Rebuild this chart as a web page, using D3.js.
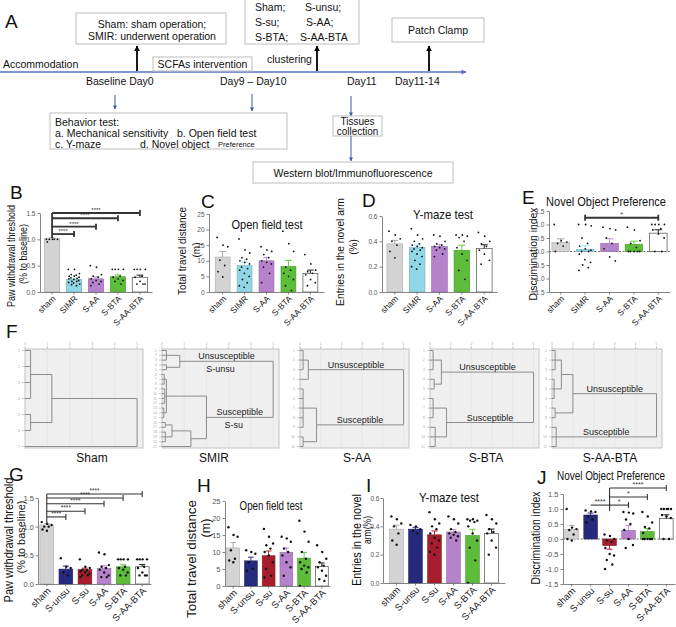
<!DOCTYPE html>
<html><head><meta charset="utf-8">
<script src="https://cdn.jsdelivr.net/npm/d3@7"></script>
<style>body{margin:0;background:#fff}svg{display:block}text{font-family:"Liberation Sans",Arial,Helvetica,sans-serif}</style>
</head><body><svg id="c" width="676" height="627"></svg>
<script>
// ---------------- DATA ----------------
const groupsB = ["sham","SIMR","S-AA","S-BTA","S-AA-BTA"];
const groupsG = ["sham","S-unsu","S-su","S-AA","S-BTA","S-AA-BTA"];
const ticksPWT = [0,0.5,1.0,1.5];
const ticksOF = [0,5,10,15,20,25];
const ticksYM = [0,0.2,0.4,0.6];
const ticksNOP = [-1.5,-1.0,-0.5,0,0.5,1.0,1.5];

// B: paw withdrawal threshold
const pwtB = [1.02,0.24,0.25,0.29,0.28];
const pwtBPts = [
  [1.0,1.0,1.0,1.0,1.0,0.95],
  [0.43,0.43,0.35,0.33,0.32,0.3,0.3,0.28,0.27,0.26,0.25,0.24,0.22,0.2,0.2,0.18,0.17,0.15,0.14,0.12],
  [0.5,0.47,0.33,0.3,0.28,0.25,0.22,0.2,0.18,0.15,0.12],
  [0.43,0.43,0.43,0.43,0.3,0.28,0.25,0.22,0.2,0.15],
  [0.43,0.43,0.43,0.43,0.3,0.28,0.2,0.15,0.15,0.15]];
const sigB = [["sham","SIMR",1.1,"****"],["sham","S-AA",1.24,"****"],["sham","S-BTA",1.4,"****"],["sham","S-AA-BTA",1.5,"****"]];
// C: open field (m)
const ofC = [11.2,8.5,10.0,8.2,6.0];
const ofCPts = [
  [17.5,15,14.5,10.2,8.5,6.5,4.8],
  [17,13.5,12.5,11,10.5,10,9.5,9,8,7.5,7,6,5,4,3,2,1.5],
  [14.5,13.5,13,12,11,10,9.5,9,8,6,3],
  [19.5,15.5,13,8,7,6,5,4,2,0.5],
  [12,9,7,6.5,6,5.5,4,3,2]];
// D: Y-maze
const ymD = [0.38,0.35,0.36,0.33,0.345];
const ymDPts = [
  [0.48,0.45,0.42,0.4,0.37,0.32,0.27],
  [0.5,0.45,0.42,0.4,0.38,0.37,0.36,0.35,0.34,0.33,0.32,0.3,0.28,0.25,0.22,0.2,0.18],
  [0.45,0.44,0.4,0.38,0.37,0.36,0.35,0.34,0.33,0.3,0.28],
  [0.45,0.45,0.44,0.43,0.4,0.35,0.3,0.25,0.17,0.1],
  [0.47,0.44,0.4,0.38,0.36,0.33,0.3,0.25,0.22]];
// E: novel object preference
const nopE = [0.33,0.08,0.30,0.27,0.68];
const nopEPts = [
  [1.0,0.4,0.35,0.3,0.2,0.0],
  [1.0,1.0,0.95,0.5,0.3,0.2,0.1,0.05,0.0,0.0,-0.1,-0.3,-0.4,-0.5,-0.6,-0.7],
  [0.9,0.85,0.8,0.5,0.3,0.1,-0.2,-0.35],
  [0.9,0.8,0.4,0.3,0.15,0,0,0,0,0],
  [1.0,1.0,1.0,1.0,0.85,0.8,0.65,0.5,0.0,0.0]];
const sigE = [["SIMR","S-AA-BTA",1.25,"*"]];
// G
const pwtG = [1.03,0.26,0.25,0.27,0.30,0.30];
const pwtGPts = [
  [1.08,1.05,1.03,1.0,1.0,0.95,0.93],
  [0.45,0.3,0.28,0.2,0.15],
  [0.43,0.3,0.28,0.25,0.24,0.22,0.2,0.18,0.15,0.15,0.12],
  [0.55,0.52,0.33,0.3,0.28,0.25,0.2,0.15,0.12,0.12],
  [0.43,0.43,0.43,0.43,0.3,0.28,0.25,0.2,0.15,0.15],
  [0.43,0.43,0.43,0.43,0.3,0.28,0.2,0.15,0.15,0.15]];
const sigG = [["sham","S-unsu",1.17,"****"],["sham","S-su",1.27,"****"],["sham","S-AA",1.4,"****"],["sham","S-BTA",1.5,"****"],["sham","S-AA-BTA",1.57,"****"]];
// H
const ofH = [11.2,7.4,8.9,9.9,8.2,5.7];
const ofHPts = [
  [17.3,15,14.5,10.5,8,7.5,7],
  [10.5,10,9.5,7,5,4.5],
  [16.8,14.5,12.5,12,11,10,9,7,5,3,2.5],
  [14.5,14,13,11,10,9,7,5.5,3],
  [19.2,16,13,10,8,7,6,5.5,5,4,0],
  [12,10,8,7,6,5.5,4.5,3,2,1.5]];
// I
const ymI = [0.38,0.38,0.34,0.36,0.335,0.35];
const ymIPts = [
  [0.47,0.45,0.42,0.4,0.35,0.3,0.27],
  [0.41,0.4,0.38,0.37,0.35],
  [0.5,0.45,0.42,0.4,0.38,0.35,0.32,0.3,0.28,0.25,0.22,0.2],
  [0.47,0.45,0.42,0.38,0.36,0.35,0.34,0.33,0.32,0.3],
  [0.45,0.45,0.44,0.44,0.43,0.4,0.35,0.3,0.25,0.16,0.0],
  [0.48,0.45,0.42,0.38,0.36,0.35,0.3,0.25,0.2]];
// J
const nopJ = [0.32,0.80,-0.22,0.29,0.25,0.68];
const nopJPts = [
  [1.0,0.38,0.33,0.3,0.15,0.0,-0.05],
  [0.95,0.92,0.9,0.75,0.65,0.55],
  [0.15,0.1,0.0,-0.05,-0.1,-0.3,-0.5,-0.55,-0.7,-0.85,-1.0],
  [0.9,0.88,0.85,0.65,0.5,0.3,0.0,-0.2,-0.3],
  [0.9,0.75,0.55,0.4,0.35,0.2,0,0,0,0,0],
  [1.0,1.0,1.0,1.0,1.0,0.8,0.75,0.7,0.0,0.0]];
const sigJ = [["S-unsu","S-su",1.13,"****"],["S-su","S-AA",1.13,"*"],["S-su","S-BTA",1.4,"*"],["S-su","S-AA-BTA",1.7,"****"]];

// F: dendrograms (merge distances, leaf order)
const dendroNames = ["Sham","SMIR","S-AA","S-BTA","S-AA-BTA"];
const dendroLeaves = [7,21,11,11,11];
const dendroTrees = [
  {h:5,c:[{h:1.2,c:[{h:0.25,c:[0,1,2,3]},{h:0.25,c:[4,5]}]},6]},
  {h:5,c:[{h:0.8,c:[{h:0.2,c:[0,1,2]},{h:0.2,c:[3,4]}]},
          {h:2,c:[{h:0.2,c:[{h:0.1,c:[5,6,7]},{h:0.12,c:[8,9,10,11]},{h:0.08,c:[12,13,14]}]},
                  {h:1.3,c:[{h:0.45,c:[{h:0.15,c:[15,16]},{h:0.15,c:[17,18,19]}]},20]}]}]},
  {h:5,c:[{h:0.4,c:[{h:0.15,c:[0,1,2]},3]},{h:0.8,c:[{h:0.15,c:[4,5,6,7,8]},{h:0.15,c:[9,10]}]}]},
  {h:5,c:[{h:0.55,c:[{h:0.15,c:[0,1,2]},{h:0.2,c:[3,4]}]},{h:0.8,c:[{h:0.15,c:[5,6,7]},{h:0.25,c:[8,9,10]}]}]},
  {h:5,c:[{h:1.0,c:[{h:0.45,c:[{h:0.15,c:[0,1,2]},{h:0.1,c:[3,4,5]}]},{h:0.15,c:[6,7]}]},{h:0.2,c:[8,9,10]}]}
];
const dendroLabels = [null,
  ["Unsusceptible","S-unsu","Susceptible","S-su"],
  ["Unsusceptible",null,"Susceptible",null],
  ["Unsusceptible",null,"Susceptible",null],
  ["Unsusceptible",null,"Susceptible",null]];

// ---------------- STYLE ----------------
const colors = {"sham":"#d3d3d3","SIMR":"#8fd6e6","S-AA":"#b582cb","S-BTA":"#5dbd3b","S-AA-BTA":"#ffffff","S-unsu":"#262a7c","S-su":"#a61e2e"};
const svg = d3.select("#c");
const defs = svg.append("defs");
function marker(id,color,w,h){
  defs.append("marker").attr("id",id).attr("viewBox","0 0 10 10").attr("refX",9).attr("refY",5)
    .attr("markerWidth",w).attr("markerHeight",h).attr("orient","auto").attr("markerUnits","userSpaceOnUse")
    .append("path").attr("d","M0,0L10,5L0,10z").attr("fill",color);
}
marker("ab","#000",6,6); marker("ad","#3b5aa6",4,4); marker("al","#5b6fc4",6,5);

// text squeezed horizontally to a measured length (the figure is condensed)
function fit(t,len,base){
  if(!len) return t;
  const w = t.node().getComputedTextLength();
  const s = Math.min(1.15, len/w);
  t.attr("transform", base + ` scale(${s},1)`);
  return t;
}
function txt(x,y,s,o={}){
  const t = svg.append("text").text(s)
    .attr("font-size",o.fs||10).attr("fill",o.fill||"#111").attr("text-anchor",o.anchor||"start");
  if(o.len){ t.attr("x",0).attr("y",0); fit(t,o.len,`translate(${x},${y})`); }
  else t.attr("x",x).attr("y",y);
  return t;
}
function vtxt(cx,cy,s,o={}){
  const t = svg.append("text").text(s).attr("transform",`translate(${cx},${cy}) rotate(-90)`)
    .attr("font-size",o.fs||10).attr("fill","#111").attr("text-anchor","middle").attr("dominant-baseline","central");
  fit(t,o.len,`translate(${cx},${cy}) rotate(-90)`);
  return t;
}
function box(x,y,w,h,col){ svg.append("rect").attr("x",x).attr("y",y).attr("width",w).attr("height",h).attr("fill","#fff").attr("stroke",col||"#bdbdbd").attr("stroke-width",1); }
function arrow(x1,y1,x2,y2,col,w,m){ svg.append("line").attr("x1",x1).attr("y1",y1).attr("x2",x2).attr("y2",y2).attr("stroke",col).attr("stroke-width",w).attr("marker-end",`url(#${m})`); }

// ---------------- PANEL A ----------------
txt(5,28,"A",{fs:19});
box(76,13,150,31); txt(152,28,"Sham: sham operation;",{anchor:"middle",fs:10.5}); txt(152,40,"SMIR: underwent operation",{anchor:"middle",fs:10.5});
box(245,-1,114,45);
txt(255,11,"Sham;",{fs:10.5}); txt(305,11,"S-unsu;",{fs:10.5}); txt(255,26,"S-su;",{fs:10.5}); txt(306,26,"S-AA;",{fs:10.5}); txt(255,41,"S-BTA;",{fs:10.5}); txt(300,41,"S-AA-BTA",{fs:10.5});
box(392,18,92,24); txt(438,34,"Patch Clamp",{anchor:"middle",fs:10.5});
arrow(0,72,466,72,"#5b6fc4",1.5,"al");
txt(3,68,"Accommodation",{fs:10.5});
arrow(137,71,137,46,"#000",1.8,"ab");
box(153,57,99,14); txt(202.5,68,"SCFAs intervention",{anchor:"middle",fs:10.5});
txt(267,63,"clustering",{fs:10.5});
arrow(317,71,317,46,"#000",1.8,"ab");
arrow(429,71,429,46,"#000",1.8,"ab");
txt(86,85,"Baseline Day0",{fs:10.5}); txt(220,85,"Day9 \u2013 Day10",{fs:10.5}); txt(347,85,"Day11",{fs:10.5}); txt(395,85,"Day11-14",{fs:10.5});
arrow(115,95,115,109,"#3b5aa6",1,"ad");
arrow(252,94,252,111,"#3b5aa6",1,"ad");
arrow(351,96,351,116,"#3b5aa6",1,"ad");
box(50,113,237,36);
txt(55,126,"Behavior test:",{fs:10.5}); txt(55,137,"a. Mechanical sensitivity",{fs:10.5}); txt(177,137,"b. Open field test",{fs:10.5});
txt(55,148,"c. Y-maze",{fs:10.5}); txt(140,148,"d. Novel object",{fs:10.5}); txt(218,147,"Preference",{fs:7.5});
box(333,116,49,20); txt(357.5,125,"Tissues",{anchor:"middle"}); txt(357.5,134.5,"collection",{anchor:"middle"});
arrow(351,136,351,161,"#3b5aa6",1,"ad");
box(253,162,200,21); txt(353,177,"Western blot/Immunofluorescence",{anchor:"middle",fs:10.5});

// ---------------- BAR PANELS ----------------
function offs(j,bw){ return (((j*7)%5)-2)*bw*0.17 + (((j*3)%4)-1.5)*bw*0.02; }
function barPanel(o){
  const g = svg.append("g");
  const x = d3.scaleBand().domain(o.cats).range(o.xr).paddingInner(o.pi).paddingOuter(o.po);
  const y = d3.scaleLinear().domain(o.dom).range(o.yr);
  const bw = x.bandwidth();
  if(o.zero){
    g.append("line").attr("x1",o.xr[0]).attr("x2",o.xr[1]).attr("y1",y(0)).attr("y2",y(0))
      .attr("stroke","#444").attr("stroke-width",0.8).attr("stroke-dasharray","2,1.5");
  }
  o.cats.forEach((c,i)=>{
    const v = o.vals[i], col = colors[c], pts = o.pts[i];
    const stroke = c==="S-AA-BTA" ? "#333" : d3.color(col).darker(0.6);
    g.append("rect").attr("x",x(c)).attr("width",bw).attr("y",Math.min(y(v),y(0))).attr("height",Math.abs(y(v)-y(0)))
      .attr("fill",col).attr("stroke",stroke).attr("stroke-width",0.6);
    const sem = d3.deviation(pts)/Math.sqrt(pts.length);
    const ev = v>=0 ? v+sem : v-sem;
    const ecol = c==="S-AA-BTA" ? "#222" : (c==="sham" ? "#a8a8a8" : d3.color(col).brighter(0.2));
    const cx = x(c)+bw/2;
    g.append("line").attr("x1",cx).attr("x2",cx).attr("y1",y(v)).attr("y2",y(ev)).attr("stroke",ecol).attr("stroke-width",1);
    g.append("line").attr("x1",cx-bw*0.22).attr("x2",cx+bw*0.22).attr("y1",y(ev)).attr("y2",y(ev)).attr("stroke",ecol).attr("stroke-width",1);
    pts.forEach((p,j)=>{
      g.append("circle").attr("cx",cx+offs(j,bw)).attr("cy",y(p)).attr("r",o.r).attr("fill","#111");
    });
  });
  const ya = g.append("g").attr("transform",`translate(${o.xr[0]},0)`)
    .call(d3.axisLeft(y).tickValues(o.ticks).tickFormat(o.fmt).tickSize(2.5).tickPadding(o.tp||2).tickSizeOuter(0));
  ya.selectAll("text").attr("font-size",o.tfs).attr("fill","#555").attr("font-family","Liberation Sans, Arial");
  ya.selectAll("line,path").attr("stroke","#666").attr("stroke-width",0.8);
  const xa = g.append("g").attr("transform",`translate(0,${y(o.dom[0])})`)
    .call(d3.axisBottom(x).tickSize(2.5).tickSizeOuter(0).tickFormat(""));
  xa.selectAll("line,path").attr("stroke","#666").attr("stroke-width",0.8);
  o.cats.forEach(c=>{
    const cx = x(c)+bw/2+2, cy = y(o.dom[0])+5;
    g.append("text").attr("transform",`translate(${cx},${cy}) rotate(-45)`).attr("text-anchor","end")
      .attr("dominant-baseline","central").attr("font-size",o.lfs).attr("fill","#222").text(c);
  });
  (o.sig||[]).forEach((s,k)=>{
    const x1 = x(s[0])+bw/2, x2 = x(s[1])+bw/2, yy = y(s[2]);
    g.append("line").attr("x1",x1).attr("x2",x2).attr("y1",yy).attr("y2",yy).attr("stroke","#333").attr("stroke-width",o.sw);
    g.append("line").attr("x1",x2).attr("x2",x2).attr("y1",yy-3).attr("y2",yy+3).attr("stroke","#333").attr("stroke-width",o.sw);
    if(!o.sigLeftBar) g.append("line").attr("x1",x1).attr("x2",x1).attr("y1",yy-3).attr("y2",yy+3).attr("stroke","#333").attr("stroke-width",o.sw);
    g.append("text").attr("x",(x1+x2)/2).attr("y",yy-1).attr("text-anchor","middle").attr("font-size",o.sfs).attr("fill","#333").text(s[3]);
  });
  if(o.sigLeftBar){
    const cx = x(o.sigLeftBar)+bw/2;
    const top = d3.max(o.sig,s=>s[2]), lo = d3.min(o.sig,s=>s[2]);
    g.append("line").attr("x1",cx).attr("x2",cx).attr("y1",y(top)).attr("y2",y(lo)+o.leftExt).attr("stroke","#333").attr("stroke-width",o.sw);
  }
  if(o.title) txt(o.title[1],o.title[2],o.title[0],{anchor:"middle",fs:o.title[3],len:o.title[4]});
  o.ylab.forEach(l=>vtxt(l[1],l[2],l[0],{fs:l[3],len:l[4]}));
  if(o.letter) txt(o.letter[1],o.letter[2],o.letter[0],{fs:19});
}
const f1 = d=>d.toFixed(1), f0 = d=>String(d);

barPanel({cats:groupsB,vals:pwtB,pts:pwtBPts,dom:[0,1.5],ticks:ticksPWT,fmt:f1,xr:[40,152],yr:[292,213],pi:0.3,po:0.2,
  r:0.9,tfs:6.5,lfs:8.5,sig:sigB,sw:1.8,sfs:6,sigLeftBar:"sham",leftExt:4,
  ylab:[["Paw withdrawal threshold",11,256,10.5,102],["(% to baseline)",23,254,10.5,60]],letter:["B",10,199]});
barPanel({cats:groupsB,vals:ofC,pts:ofCPts,dom:[0,25],ticks:ticksOF,fmt:f0,xr:[209,324],yr:[292,214],pi:0.32,po:0.28,
  r:0.9,tfs:6.5,lfs:8.5,title:["Open field test",267,229,12,71],
  ylab:[["Total travel distance",182,251,10.5,88],["(m)",196,250,10]],letter:["C",201,208]});
barPanel({cats:groupsB,vals:ymD,pts:ymDPts,dom:[0,0.6],ticks:ticksYM,fmt:f1,xr:[382,497],yr:[292,216],pi:0.3,po:0.22,
  r:0.9,tfs:6.5,lfs:8.5,title:["Y-maze test",443,219,12.5,60],
  ylab:[["Entries in the novel arm",340,252,10.5,108],["(%)",353,247,10]],letter:["D",362,207]});
barPanel({cats:groupsB,vals:nopE,pts:nopEPts,dom:[-1.5,1.5],ticks:ticksNOP,fmt:f1,xr:[549,670],yr:[292,211],pi:0.28,po:0.12,
  r:0.9,tfs:6.5,lfs:8.5,zero:true,sig:sigE,sw:1.8,sfs:7,title:["Novel Object Preference",606,206,13,120],
  ylab:[["Discrimination index",533,254,11,93]],letter:["E",522,204]});

barPanel({cats:groupsG,vals:pwtG,pts:pwtGPts,dom:[0,1.5],ticks:ticksPWT,fmt:f1,xr:[38,151],yr:[584,498],pi:0.28,po:0.1,
  r:1.2,tfs:7.5,tp:1.5,lfs:9.5,sig:sigG,sw:1.1,sfs:6.5,sigLeftBar:"sham",leftExt:8,
  ylab:[["Paw withdrawal threshold",8.5,540,12.5,125],["(% to baseline)",20.5,537,11.5,73]],letter:["G",9,481]});
barPanel({cats:groupsG,vals:ofH,pts:ofHPts,dom:[0,25],ticks:ticksOF,fmt:f0,xr:[225,330],yr:[586,501],pi:0.28,po:0.1,
  r:1.2,tfs:7.5,lfs:9.5,title:["Open field test",271,510,12.5,63],
  ylab:[["Total travel distance",192,559,13,118],["(m)",206,528,12.5]],letter:["H",197,492]});
barPanel({cats:groupsG,vals:ymI,pts:ymIPts,dom:[0,0.6],ticks:ticksYM,fmt:f1,xr:[383,505],yr:[583,498],pi:0.28,po:0.35,
  r:1.2,tfs:6.5,tp:1,lfs:9.5,title:["Y-maze test",449,502,12.5,60],
  ylab:[["Entries in the novel",357,540,12,92],["arm(%)",367.5,530,11.5,28]],letter:["I",366,492]});
barPanel({cats:groupsG,vals:nopJ,pts:nopJPts,dom:[-1.5,1.5],ticks:ticksNOP,fmt:f1,xr:[563,675],yr:[584,494],pi:0.28,po:0.1,
  r:1.2,tfs:7.5,lfs:9.5,zero:true,sig:sigJ,sw:1.1,sfs:7,sigLeftBar:"S-su",leftExt:6,title:["Novel Object Preference",611,480,12.5,108],
  ylab:[["Discrimination index",535,538,13,93]],letter:["J",537,484]});

// ---------------- PANEL F ----------------
txt(6,338,"F",{fs:19});
const dX = [25,162,300,430,552], dW = [118,117,109,109,110], dNameX = [92,214,357,486,610];
dendroTrees.forEach((tree,k)=>{
  const g = svg.append("g");
  const top = 349, bot = 448, x0 = dX[k], w = dW[k];
  g.append("rect").attr("x",x0).attr("y",top).attr("width",w).attr("height",bot-top).attr("fill","#efefef").attr("stroke","#c2c2c2").attr("stroke-width",1);
  const xs = d3.scaleLinear().domain([0,5]).range([x0,x0+w*0.95]);
  const ys = d3.scaleLinear().domain([0,dendroLeaves[k]-1]).range([top+1.5,bot-1.5]);
  d3.range(0,6).forEach(t=>{
    g.append("line").attr("x1",xs(t)).attr("x2",xs(t)).attr("y1",top).attr("y2",bot).attr("stroke","#e2e2e2").attr("stroke-width",0.6);
    g.append("line").attr("x1",xs(t)).attr("x2",xs(t)).attr("y1",top-3).attr("y2",top).attr("stroke","#aaa").attr("stroke-width",0.6);
    g.append("text").attr("x",xs(t)).attr("y",top-4).attr("text-anchor","middle").attr("font-size",3.5).attr("fill","#aaa").text(t);
  });
  d3.range(dendroLeaves[k]).forEach(i=>{
    g.append("line").attr("x1",x0-3).attr("x2",x0).attr("y1",ys(i)).attr("y2",ys(i)).attr("stroke","#aaa").attr("stroke-width",0.6);
    g.append("text").attr("x",x0-5).attr("y",ys(i)+1).attr("text-anchor","end").attr("font-size",3.5).attr("fill","#aaa").text(i+1);
  });
  const ln = (a,b,c,d)=>g.append("line").attr("x1",a).attr("y1",b).attr("x2",c).attr("y2",d).attr("stroke","#8c8c8c").attr("stroke-width",1);
  function draw(node){
    if(typeof node==="number") return {y:ys(node),h:0};
    const ch = node.c.map(draw);
    ch.forEach(d=>ln(xs(d.h),d.y,xs(node.h),d.y));
    ln(xs(node.h),d3.min(ch,d=>d.y),xs(node.h),d3.max(ch,d=>d.y));
    return {y:(ch[0].y+ch[ch.length-1].y)/2,h:node.h,ch:ch};
  }
  const root = draw(tree);
  const lab = dendroLabels[k];
  if(lab){
    root.ch.forEach((c,j)=>{
      const cx = (xs(c.h)+xs(5))/2;
      if(lab[j*2]) g.append("text").attr("x",cx).attr("y",c.y-2).attr("text-anchor","middle").attr("font-size",9).attr("fill","#222").text(lab[j*2]);
      if(lab[j*2+1]) g.append("text").attr("x",cx-6).attr("y",c.y+11).attr("text-anchor","middle").attr("font-size",9).attr("fill","#222").text(lab[j*2+1]);
    });
  }
  txt(dNameX[k],462,dendroNames[k],{anchor:"middle",fs:12});
});
</script></body></html>
